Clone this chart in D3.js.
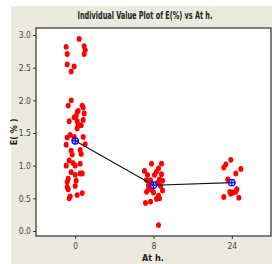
<!DOCTYPE html>
<html><head><meta charset="utf-8">
<script src="https://cdn.jsdelivr.net/npm/d3@7/dist/d3.min.js"></script>
<style>
html,body{margin:0;padding:0;background:#fff;}
svg{display:block;}
text{font-family:"Liberation Sans Narrow","DejaVu Sans Condensed",sans-serif;}
</style></head>
<body>
<script>
const categories = ["0", "8", "24"];
const yTicks = [0.0, 0.5, 1.0, 1.5, 2.0, 2.5, 3.0];
const means = [1.38, 0.70, 0.74];
const values0 = [2.94,2.82,2.83,2.77,2.71,2.71,2.55,2.52,2.44,
  2.00,1.92,1.92,1.89,1.84,1.82,1.80,1.76,1.74,1.70,1.68,1.68,1.62,1.62,1.57,1.47,1.43,1.44,1.44,
  1.32,1.33,1.23,1.17,1.24,1.18,1.08,1.04,1.00,1.03,1.00,0.90,0.88,0.88,0.86,0.80,0.75,0.77,0.69,0.67,0.64,0.53,0.50,0.55,0.58];
const jitter0 = [4,-9,9,10,9,-8,-8,-1,-4,
  -4,-7,7,8,3,2,9,1,-1,8,-6,2,3,6,2,-5,-8,8,-1,
  -9,10,-4,-3,5,6,-6,-2,-9,5,0,-4,5,7,0,-7,-8,1,0,-8,-7,-5,-6,2,7];
const values8 = [1.03,1.03,0.96,0.92,0.91,0.87,0.86,0.86,0.79,0.78,0.78,0.77,0.74,0.74,0.70,0.69,0.64,0.63,0.62,0.60,0.59,0.54,0.49,0.50,0.45,0.43,0.09];
const jitter8 = [-2,8,5,-9,3,8,-6,1,6,-7,-3,9,-3,4,-5,7,-5,-2,9,-7,0,5,3,6,-3,-8,5];
const values24 = [1.09,1.02,0.97,0.95,0.88,0.79,0.64,0.60,0.59,0.60,0.57,0.52,0.51];
const jitter24 = [-1,-6,-8,9,4,-4,5,-2,1,4,-1,-8,7];

const W = 272, H = 264;
const svg = d3.select("body").append("svg").attr("width", W).attr("height", H);

// panel background
svg.append("rect").attr("x", 11).attr("y", 6).attr("width", W - 11).attr("height", H - 6).attr("fill", "#ECE9DF");

const plot = {l: 36, t: 28, r: 271, b: 236};
svg.append("rect").attr("x", plot.l).attr("y", plot.t)
  .attr("width", plot.r - plot.l).attr("height", plot.b - plot.t)
  .attr("fill", "#fff");

const x = d3.scalePoint().domain(categories).range([plot.l, plot.r]).padding(0.5);
const y = d3.scaleLinear().domain([-0.077, 3.108]).range([plot.b, plot.t]);

// axes
const yAxis = d3.axisLeft(y).tickValues(yTicks).tickFormat(d3.format(".1f")).tickSize(3).tickPadding(2);
const gy = svg.append("g").attr("transform", `translate(${plot.l},0)`).call(yAxis);
gy.select(".domain").remove();
const xAxis = d3.axisBottom(x).tickSize(3).tickPadding(4);
const gx = svg.append("g").attr("transform", `translate(0,${plot.b})`).call(xAxis);
gx.select(".domain").remove();
svg.selectAll(".tick text").attr("font-size", 8.5).attr("fill", "#444")
  .attr("font-family", "'Liberation Sans Narrow','DejaVu Sans Condensed',sans-serif");
svg.selectAll(".tick line").attr("stroke", "#333");

// frame
svg.append("rect").attr("x", plot.l).attr("y", plot.t)
  .attr("width", plot.r - plot.l).attr("height", plot.b - plot.t)
  .attr("fill", "none").attr("stroke", "#333").attr("stroke-width", 1.2);

// points
const groups = [[values0, jitter0], [values8, jitter8], [values24, jitter24]];
const pts = [];
groups.forEach((g, i) => g[0].forEach((v, j) => pts.push({c: categories[i], v, dx: g[1][j]})));
svg.append("g").selectAll("ellipse").data(pts).join("ellipse")
  .attr("cx", d => x(d.c) + d.dx).attr("cy", d => y(d.v))
  .attr("rx", 2.5).attr("ry", 2.9).attr("fill", "#FF0000");

// mean line
const line = d3.line().x((d, i) => x(categories[i])).y(d => y(d));
svg.append("path").datum(means).attr("d", line).attr("fill", "none").attr("stroke", "#111").attr("stroke-width", 1.2);

// mean symbols
const mg = svg.append("g").selectAll("g").data(means).join("g")
  .attr("transform", (d, i) => `translate(${x(categories[i])},${y(d)})`);
mg.append("circle").attr("r", 3.3).attr("fill", "#8080ff").attr("fill-opacity", 0.4).attr("stroke", "#0000FF").attr("stroke-width", 1.3);
mg.append("path").attr("d", "M-3.3,0H3.3M0,-3.3V3.3").attr("stroke", "#0000FF").attr("stroke-width", 1.1);

// title and labels
svg.append("text").attr("x", 145).attr("y", 19).attr("text-anchor", "middle")
  .attr("font-size", 10).attr("font-weight", "bold").attr("fill", "#222")
  .attr("textLength", 135).attr("lengthAdjust", "spacingAndGlyphs")
  .text("Individual Value Plot of E(%) vs At h.");
svg.append("text").attr("x", 153).attr("y", 261).attr("text-anchor", "middle")
  .attr("font-size", 9).attr("font-weight", "bold").attr("fill", "#222")
  .text("At h.");
svg.append("text").attr("transform", "translate(17,132) rotate(-90)").attr("text-anchor", "middle")
  .attr("font-size", 9).attr("font-weight", "bold").attr("fill", "#222")
  .text("E( % )");
</script>
</body></html>
